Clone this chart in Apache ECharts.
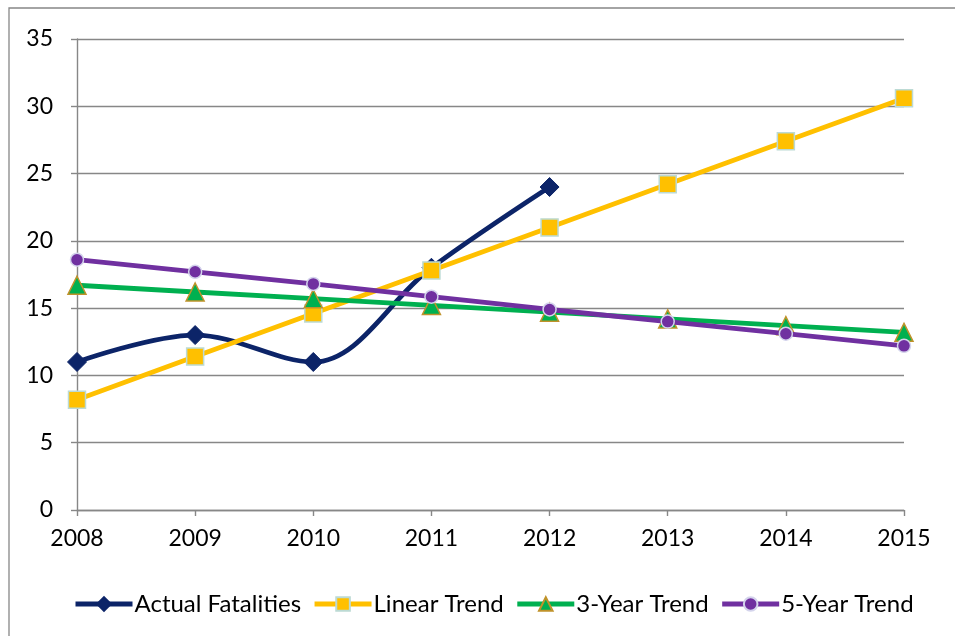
<!DOCTYPE html>
<html>
<head>
<meta charset="utf-8">
<script src="https://cdn.jsdelivr.net/npm/echarts@6/dist/echarts.min.js"></script>
<style>
  html, body { margin: 0; padding: 0; background: #fff; }
  #chart { width: 955px; height: 636px; }
</style>
</head>
<body>
<div id="chart"></div>
<script>
// Years on the category axis
const years = ['2008', '2009', '2010', '2011', '2012', '2013', '2014', '2015'];

// Observed fatalities (2008–2012)
const actualFatalities = [11, 13, 11, 18, 24];

// Projection series
const linearTrend = [8.2, 11.4, 14.6, 17.8, 21.0, 24.2, 27.4, 30.6];
const threeYearTrend = [16.7, 16.2, 15.7, 15.2, 14.7, 14.2, 13.7, 13.2];
const fiveYearTrend = [18.6, 17.7, 16.8, 15.85, 14.9, 14.0, 13.1, 12.2];

// Value axis ticks
const yMin = 0, yMax = 35, yStep = 5;

const FONT = 'Lato';
const AXIS_GREY = '#878787';
const LINE_W = 4.8;

const chart = echarts.init(document.getElementById('chart'), null, { renderer: 'canvas' });

chart.setOption({
  backgroundColor: '#ffffff',
  animation: false,
  textStyle: { fontFamily: FONT, color: '#000' },
  graphic: [{
    type: 'rect',
    shape: { x: 9, y: 8, width: 980, height: 700 },
    style: { fill: 'none', stroke: AXIS_GREY, lineWidth: 1.3 },
    silent: true,
    z: -1
  }],
  grid: { left: 77, right: 51, top: 39, bottom: 126, containLabel: false },
  xAxis: {
    type: 'category',
    data: years,
    boundaryGap: false,
    axisLine: { show: true, lineStyle: { color: AXIS_GREY, width: 1.4 } },
    axisTick: { show: true, length: 6, alignWithLabel: true, lineStyle: { color: AXIS_GREY, width: 1.4 } },
    axisLabel: { color: '#000', fontFamily: FONT, fontSize: 23, margin: 17 },
    splitLine: { show: false }
  },
  yAxis: {
    type: 'value',
    min: yMin,
    max: yMax,
    interval: yStep,
    axisLine: { show: true, lineStyle: { color: AXIS_GREY, width: 1.4 } },
    axisTick: { show: true, length: 6, lineStyle: { color: AXIS_GREY, width: 1.4 } },
    axisLabel: { color: '#000', fontFamily: FONT, fontSize: 23, margin: 24 },
    splitLine: { show: true, lineStyle: { color: AXIS_GREY, width: 1.4 } }
  },
  legend: {
    bottom: 15,
    left: 68,
    itemWidth: 57,
    itemHeight: 17,
    itemGap: 11,
    lineStyle: { width: 5 },
    textStyle: { fontFamily: FONT, fontSize: 24, color: '#000', padding: [0, 0, 0, -3] },
    data: ['Actual Fatalities', 'Linear Trend', '3-Year Trend', '5-Year Trend']
  },
  series: [
    {
      name: 'Actual Fatalities',
      type: 'line',
      data: actualFatalities,
      smooth: 0.35,
      symbol: 'diamond',
      symbolSize: 19,
      lineStyle: { color: '#0c2468', width: LINE_W },
      itemStyle: { color: '#0c2468', borderColor: '#0c2468', borderWidth: 1 },
      z: 2
    },
    {
      name: 'Linear Trend',
      type: 'line',
      data: linearTrend,
      symbol: 'rect',
      symbolSize: 17,
      lineStyle: { color: '#ffc000', width: LINE_W },
      itemStyle: { color: '#ffc000', borderColor: '#bcdad4', borderWidth: 1.5 },
      z: 3
    },
    {
      name: '3-Year Trend',
      type: 'line',
      data: threeYearTrend,
      symbol: 'triangle',
      symbolSize: 18,
      lineStyle: { color: '#00b050', width: LINE_W },
      itemStyle: { color: '#00b050', borderColor: '#c0922a', borderWidth: 1.5 },
      z: 4
    },
    {
      name: '5-Year Trend',
      type: 'line',
      data: fiveYearTrend,
      symbol: 'circle',
      symbolSize: 13,
      lineStyle: { color: '#7030a0', width: LINE_W },
      itemStyle: { color: '#7030a0', borderColor: '#d4d4ec', borderWidth: 1.5 },
      z: 5
    }
  ]
});
</script>
</body>
</html>
